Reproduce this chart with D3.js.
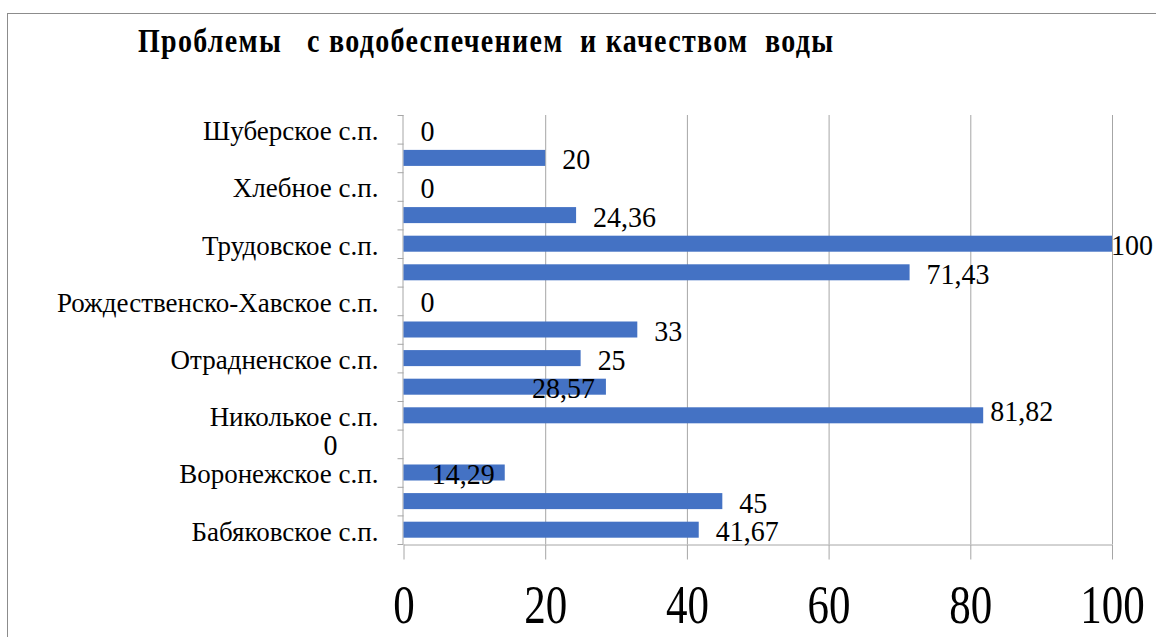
<!DOCTYPE html>
<html>
<head>
<meta charset="utf-8">
<script src="https://cdn.jsdelivr.net/npm/d3@7"></script>
<style>
    body { margin: 0; background: #fff; }
    svg { display: block; }
</style>
</head>
<body>
<div id="chart"></div>
<script>
// categories in sheet order (bottom to top), every second label is hidden in the original
const categories = ["Бабяковское с.п.", "", "Воронежское с.п.", "", "Николькое с.п.", "",
    "Отрадненское с.п.", "", "Рождественско-Хавское с.п.", "", "Трудовское с.п.", "",
    "Хлебное с.п.", "", "Шуберское с.п."];
const values = [41.67, 45, 14.29, 0, 81.82, 28.57, 25, 33, 0, 71.43, 100, 24.36, 0, 20, 0];
const xTicks = [0, 20, 40, 60, 80, 100];
const title = "Проблемы   с водобеспечением  и качеством  воды";

const width = 1156,
    height = 637,
    margin = ({top: 115, right: 44, bottom: 93, left: 403.5});

const font = "'Liberation Serif', 'Times New Roman', serif";
const gridColor = "#a6a6a6";

let svg = d3.select("#chart")
    .append("svg")
    .attr("width", width)
    .attr("height", height)
    .attr("viewBox", [0, 0, width, height]);

// chart area border (right and bottom edges fall outside the picture)
svg.append("rect")
    .attr("x", 7.5).attr("y", 13.5)
    .attr("width", width + 20).attr("height", height + 20)
    .attr("fill", "none")
    .attr("stroke", "#8c8c8c");

svg.append("text")
    .attr("transform", "translate(138,52) scale(1,1.22)")
    .attr("font-family", font)
    .attr("font-weight", "bold")
    .attr("font-size", 28)
    .attr("textLength", 695)
    .attr("lengthAdjust", "spacing")
    .style("white-space", "pre")
    .text(title);

let x = d3.scaleLinear()
    .domain([0, 100])
    .range([margin.left, width - margin.right]);

let y = d3.scaleBand()
    .domain(d3.range(categories.length))
    .range([height - margin.bottom, margin.top])   // first category at the bottom
    .paddingInner(0.44)
    .paddingOuter(0.22);

const plotTop = margin.top, plotBottom = height - margin.bottom;

// vertical gridlines
svg.append("g")
    .selectAll("line")
    .data(xTicks.slice(1))
    .join("line")
    .attr("x1", d => x(d) + 0.5).attr("x2", d => x(d) + 0.5)
    .attr("y1", plotTop).attr("y2", plotBottom)
    .attr("stroke", gridColor);

// x axis: line, long ticks below, big numbers
const xAxis = g => g
    .attr("transform", `translate(0,${plotBottom + 0.5})`)
    .call(d3.axisBottom(x).tickValues(xTicks).tickSize(15).tickSizeOuter(0))
    .call(g => g.select(".domain").attr("stroke", gridColor))
    .call(g => g.selectAll(".tick line").attr("stroke", gridColor))
    .call(g => g.selectAll(".tick text")
        .attr("y", 0).attr("dy", null)
        .attr("transform", "translate(0,78) scale(1,1.27)")
        .attr("font-family", font)
        .attr("font-size", 43)
        .attr("fill", "#000"));

svg.append("g").call(xAxis);

// y axis line with ticks at the category boundaries
const step = y.step();
svg.append("line")
    .attr("x1", x(0) - 0.5).attr("x2", x(0) - 0.5)
    .attr("y1", plotTop).attr("y2", plotBottom)
    .attr("stroke", gridColor);

svg.append("g")
    .selectAll("line")
    .data(d3.range(categories.length + 1))
    .join("line")
    .attr("x1", x(0) - 6).attr("x2", x(0))
    .attr("y1", i => plotTop + i * step + 0.5)
    .attr("y2", i => plotTop + i * step + 0.5)
    .attr("stroke", gridColor);

const yAxis = g => g
    .attr("transform", `translate(${x(0)},0)`)
    .call(d3.axisLeft(y).tickSize(0).tickPadding(25).tickFormat(i => categories[i]))
    .call(g => g.select(".domain").remove())
    .call(g => g.selectAll(".tick text")
        .attr("dy", "0.4em")
        .attr("font-family", font)
        .attr("font-size", 27)
        .attr("fill", "#000"));

svg.append("g").call(yAxis);

// bars
svg.append("g")
    .selectAll("rect")
    .data(values)
    .join("rect")
    .attr("fill", "#4472c4")
    .attr("x", x(0))
    .attr("y", (d, i) => y(i))
    .attr("width", d => x(d) - x(0))
    .attr("height", y.bandwidth());

// data labels: outside end, a few were dragged by hand in the original
const labelNudge = {10: [-18, 0], 5: [-91, 0], 4: [-10, -6], 3: [-97, 0], 2: [-90, 0]};

svg.append("g")
    .selectAll("text")
    .data(values)
    .join("text")
    .attr("transform", (d, i) => {
        const n = labelNudge[i] || [0, 0];
        const tx = x(d) + 17 + n[0];
        const ty = y(i) + y.bandwidth() / 2 + 11.5 + n[1];
        return `translate(${tx},${ty}) scale(1,1.08)`;
    })
    .attr("font-family", font)
    .attr("font-size", 28)
    .attr("fill", "#000")
    .text(d => String(d).replace(".", ","));
</script>
</body>
</html>
